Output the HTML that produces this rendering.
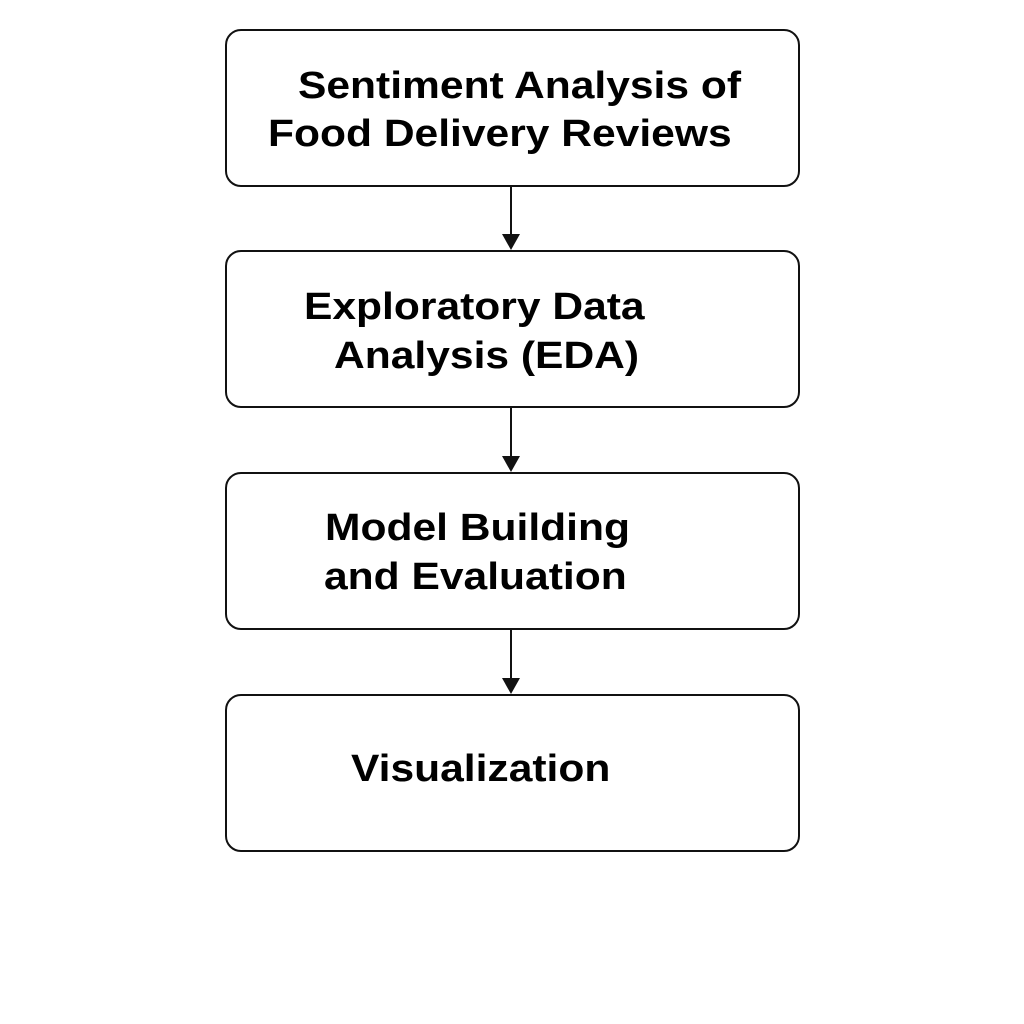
<!DOCTYPE html>
<html><head><style>
body{margin:0;width:1024px;height:1024px;background:#fff;position:relative;overflow:hidden;font-family:"Liberation Sans",Arial,sans-serif;}
.b{position:absolute;left:225px;width:571px;height:154px;border:2px solid #111;border-radius:16px;box-sizing:content-box;}
.t{position:absolute;font-weight:bold;font-size:38px;line-height:44px;white-space:nowrap;color:#000;transform:scaleX(1.12);transform-origin:left center;}
</style></head><body>
<div class="b" style="top:29px"></div>
<div class="b" style="top:250px"></div>
<div class="b" style="top:472px"></div>
<div class="b" style="top:694px"></div>
<svg width="1024" height="1024" style="position:absolute;left:0;top:0">
<g stroke="#111" stroke-width="2" fill="#111">
<line x1="511" y1="186" x2="511" y2="238"/><polygon points="502,234 520,234 511,250" stroke="none"/>
<line x1="511" y1="408" x2="511" y2="460"/><polygon points="502,456 520,456 511,472" stroke="none"/>
<line x1="511" y1="630" x2="511" y2="682"/><polygon points="502,678 520,678 511,694" stroke="none"/>
</g></svg>
<div class="t" style="left:298px;top:64px">Sentiment Analysis of</div>
<div class="t" style="left:268px;top:112px">Food Delivery Reviews</div>
<div class="t" style="left:304px;top:285px">Exploratory Data</div>
<div class="t" style="left:334px;top:334px">Analysis (EDA)</div>
<div class="t" style="left:325px;top:506px">Model Building</div>
<div class="t" style="left:324px;top:555px">and Evaluation</div>
<div class="t" style="left:351px;top:747px">Visualization</div>
</body></html>
